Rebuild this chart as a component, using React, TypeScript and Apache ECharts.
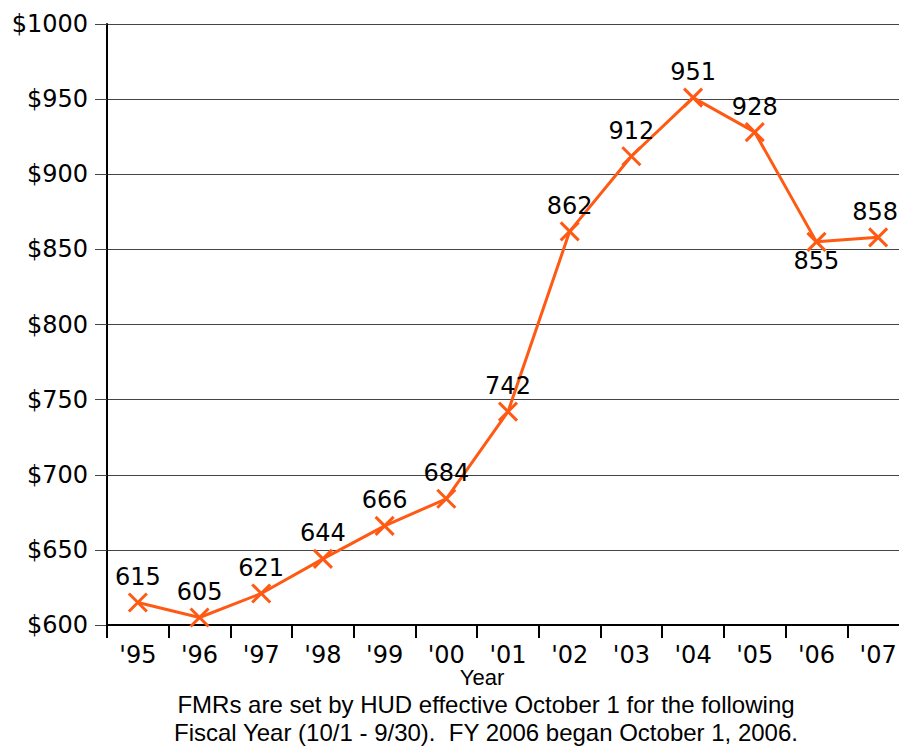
import React, { useEffect, useRef } from "react";
import * as echarts from "echarts";

const years = ["'95", "'96", "'97", "'98", "'99", "'00", "'01", "'02", "'03", "'04", "'05", "'06", "'07"];
const rents = [615, 605, 621, 644, 666, 684, 742, 862, 912, 951, 928, 855, 858];
const labelBelow = ["'06"];
const labelNudgedLeft = ["'07"];
const axisTitle = "Year";
const footnote = [
  "FMRs are set by HUD effective October 1 for the following",
  "Fiscal Year (10/1 - 9/30).  FY 2006 began October 1, 2006.",
];

const ORANGE = "#ff5a14";
const LABEL_FONT = "'DejaVu Sans', 'Noto Sans', sans-serif";
const NOTE_FONT = "'Liberation Sans', Arial, sans-serif";

export default function App() {
  const ref = useRef<HTMLDivElement>(null);

  useEffect(() => {
    document.body.style.margin = "0";
    const chart = echarts.init(ref.current!, null, { renderer: "svg" });
    const data = rents.map((v, i) => {
      const y = years[i];
      let label: any = undefined;
      if (labelBelow.includes(y)) label = { position: "bottom", distance: -3 };
      else if (labelNudgedLeft.includes(y)) label = { offset: [-3, 0] };
      return { value: v, label };
    });
    chart.setOption({
      animation: false,
      grid: {
        left: 107,
        top: 24,
        width: 802,
        height: 601,
        containLabel: false,
        outerBoundsMode: "none",
      },
      xAxis: {
        type: "category",
        data: years,
        boundaryGap: true,
        axisLine: { lineStyle: { color: "#000", width: 2 } },
        axisTick: { show: true, length: 13, lineStyle: { color: "#000", width: 2 } },
        axisLabel: { color: "#000", fontSize: 24, fontFamily: LABEL_FONT, margin: 18 },
        splitLine: { show: false },
      },
      yAxis: {
        type: "value",
        min: 600,
        max: 1000,
        interval: 50,
        axisLine: { show: true, lineStyle: { color: "#000", width: 2 } },
        axisTick: { show: true, length: 12, lineStyle: { color: "#444", width: 1 } },
        axisLabel: {
          color: "#000",
          fontSize: 24,
          fontFamily: LABEL_FONT,
          margin: 19,
          formatter: (v: number) => "$" + v,
        },
        splitLine: { show: true, lineStyle: { color: "#444", width: 1 } },
      },
      series: [
        {
          type: "line",
          data,
          lineStyle: { color: ORANGE, width: 3 },
          symbol: "path://M0,0L10,10M10,0L0,10",
          symbolSize: 18,
          itemStyle: { color: ORANGE, borderColor: ORANGE, borderWidth: 3 },
          label: {
            show: true,
            position: "top",
            distance: 3,
            color: "#000",
            fontSize: 24,
            fontFamily: LABEL_FONT,
          },
        },
      ],
      graphic: [
        {
          type: "text",
          x: 482,
          y: 677,
          style: {
            text: axisTitle,
            fill: "#000",
            font: `22px ${NOTE_FONT}`,
            textAlign: "center",
            textVerticalAlign: "middle",
          },
        },
        ...footnote.map((line, i) => ({
          type: "text",
          x: 486,
          y: 704 + i * 28,
          style: {
            text: line,
            fill: "#000",
            font: `24px ${NOTE_FONT}`,
            textAlign: "center",
            textVerticalAlign: "middle",
          },
        })),
      ],
    });
    return () => chart.dispose();
  }, []);

  return <div ref={ref} style={{ width: 899, height: 747 }} />;
}
